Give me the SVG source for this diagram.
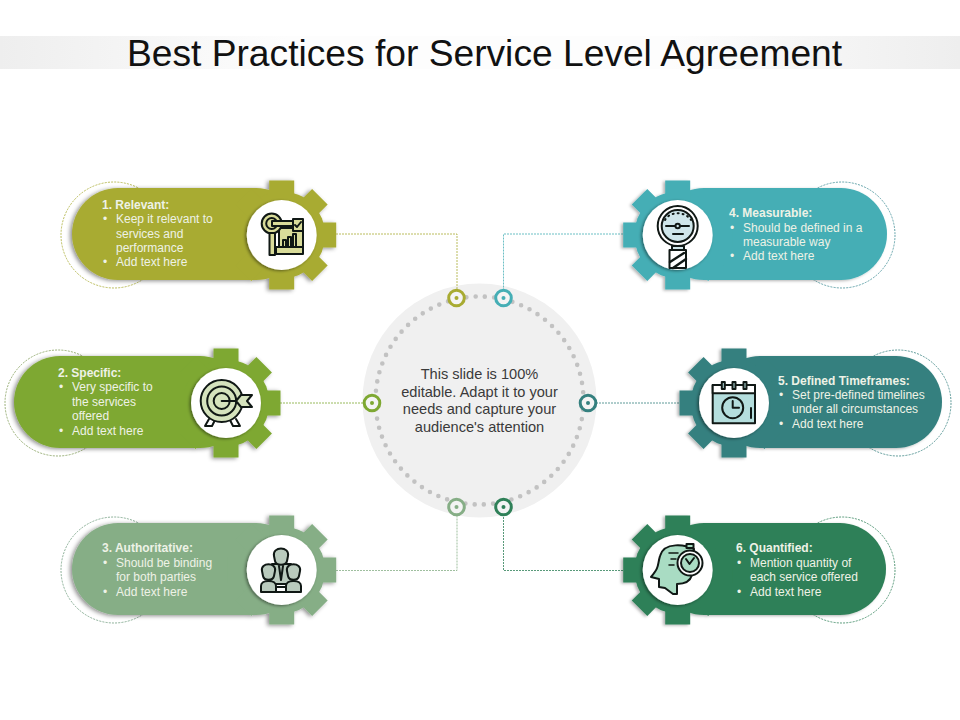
<svg xmlns="http://www.w3.org/2000/svg" width="960" height="720" viewBox="0 0 960 720">
<style>
text{font-family:"Liberation Sans",Arial,sans-serif}
.t{font-size:12px;fill:#eef2e6}
.b{font-weight:bold}
.c{font-size:14.6px;fill:#3a3a3a;text-anchor:middle}
.conn{fill:none;stroke-width:.8;stroke-dasharray:2 1}
.dash{fill:none;stroke-width:.8;stroke-dasharray:2 1.2}
.ring{fill:#f4f4f4;stroke-width:3}
.ic{stroke:#101815;stroke-width:2;stroke-linejoin:round;stroke-linecap:round}
.no{fill:none}
.wh{fill:#fff;filter:url(#sw)}
</style>
<defs>
<linearGradient id="band"><stop offset="0" stop-color="#eeeeee"/><stop offset=".3" stop-color="#fdfdfd"/><stop offset=".7" stop-color="#fdfdfd"/><stop offset="1" stop-color="#eeeeee"/></linearGradient>
<filter id="sl" x="-15%" y="-15%" width="130%" height="130%"><feDropShadow dx="-2" dy="1" stdDeviation="2.2" flood-color="#000" flood-opacity=".45"/></filter>
<filter id="sr" x="-15%" y="-15%" width="130%" height="130%"><feDropShadow dx="-2" dy="1" stdDeviation="1.8" flood-color="#000" flood-opacity=".3"/></filter>
<filter id="sw" x="-20%" y="-20%" width="140%" height="140%"><feDropShadow dx="-1.500" dy="1" stdDeviation="1.500" flood-color="#000" flood-opacity=".45"/></filter>
<g id="gear">
<circle r="43.500"/>
<rect x="-12.500" y="-54.500" width="25" height="109"/>
<rect x="-11" y="-54" width="22" height="108" transform="rotate(45)"/>
<rect x="-12.500" y="-54.500" width="25" height="109" transform="rotate(90)"/>
<rect x="-11" y="-54" width="22" height="108" transform="rotate(135)"/>
</g>
</defs>
<rect width="960" height="720" fill="#fff"/>
<rect y="36" width="960" height="33" fill="url(#band)"/>
<text x="484.500" y="66" font-size="37.200" text-anchor="middle" fill="#111">Best Practices for Service Level Agreement</text>

<g id="center">
<circle cx="479.500" cy="400.500" r="117" fill="#f0f0f0"/>
<circle cx="479.500" cy="400.500" r="104" fill="none" stroke="#c2c2c2" stroke-width="4.600" stroke-linecap="round" stroke-dasharray="0 9.340"/>
<text class="c" x="479.500" y="379">This slide is 100%</text>
<text class="c" x="479.500" y="396.500">editable. Adapt it to your</text>
<text class="c" x="479.500" y="414">needs and capture your</text>
<text class="c" x="479.500" y="431.500">audience's attention</text>
</g>

<g id="connectors">
<path class="conn" stroke="#a8ab32" d="M336 234H457V290"/>
<path class="conn" stroke="#7ea832" d="M280 403H364"/>
<path class="conn" stroke="#86ae86" d="M336 570.500H457V515"/>
<path class="conn" stroke="#45aeb5" d="M623 234H503.500V290"/>
<path class="conn" stroke="#35807f" d="M596 403H680"/>
<path class="conn" stroke="#2f8058" d="M623 570.500H503.500V515"/>
</g>

<g id="ports">
<circle class="ring" cx="456.500" cy="298" r="7.800" stroke="#a8ab32"/><circle cx="456.500" cy="298" r="2" fill="#a8ab32"/>
<circle class="ring" cx="503.500" cy="298" r="7.800" stroke="#45aeb5"/><circle cx="503.500" cy="298" r="2" fill="#45aeb5"/>
<circle class="ring" cx="372" cy="403" r="7.800" stroke="#7ea832"/><circle cx="372" cy="403" r="2" fill="#7ea832"/>
<circle class="ring" cx="588" cy="403" r="7.800" stroke="#35807f"/><circle cx="588" cy="403" r="2" fill="#35807f"/>
<circle class="ring" cx="456.500" cy="507" r="7.800" stroke="#86ae86"/><circle cx="456.500" cy="507" r="2" fill="#86ae86"/>
<circle class="ring" cx="503.500" cy="507" r="7.800" stroke="#2f8058"/><circle cx="503.500" cy="507" r="2" fill="#2f8058"/>
</g>

<g id="node1">
<circle class="dash" cx="114" cy="235" r="53" stroke="#a8ab32"/>
<g fill="#a8ab32" filter="url(#sl)"><rect x="72" y="188" width="230" height="92" rx="46"/><use href="#gear" x="281.700" y="235"/></g>
<circle class="wh" cx="281.700" cy="235" r="35"/>
<g class="ic" fill="#d9dc9a">
<path d="M279 228H303V247H279Z"/>
<path d="M276 247H303V254H276Z"/>
<circle cx="271.700" cy="223.500" r="10"/>
<circle cx="271.700" cy="223.500" r="5.500"/>
<path d="M269.500 233H275V255H269.500Z"/>
<path d="M272 221H293V226H272Z"/>
<path d="M293 219H303V231H293Z"/>
<path class="no" d="M295 225l2 2 4-5"/>
<path d="M283 246V240H286V246M288 246V237H291V246M293 246V234H296V246"/>
</g>
<text class="t b" x="102" y="209">1. Relevant:</text>
<text class="t" x="103" y="223">•</text><text class="t" x="116" y="223">Keep it relevant to</text>
<text class="t" x="116" y="237.500">services and</text>
<text class="t" x="116" y="252">performance</text>
<text class="t" x="103" y="266">•</text><text class="t" x="116" y="266">Add text here</text>
</g>

<g id="node2">
<circle class="dash" cx="58" cy="403" r="53" stroke="#7f9a55"/>
<g fill="#7ea832" filter="url(#sl)"><rect x="14" y="356" width="232" height="92" rx="46"/><use href="#gear" x="226" y="403"/></g>
<circle class="wh" cx="226" cy="403" r="35"/>
<g class="ic">
<path fill="none" d="M209 419l-4 7h7l3-6M236 419l4 7h-7l-3-6"/>
<circle cx="221.700" cy="401" r="21" fill="#d5e3bd"/>
<circle cx="221.700" cy="401" r="14.500" fill="#d5e3bd"/>
<circle cx="221.700" cy="401" r="8" fill="#d5e3bd"/>
<path fill="none" d="M221.700 401H240"/>
<path fill="#d5e3bd" d="M236 401l5-6h11l-5 6 5 6H241Z"/>
</g>
<text class="t b" x="58" y="377">2. Specific:</text>
<text class="t" x="59" y="391">•</text><text class="t" x="72" y="391">Very specific to</text>
<text class="t" x="72" y="405.500">the services</text>
<text class="t" x="72" y="420">offered</text>
<text class="t" x="59" y="434.500">•</text><text class="t" x="72" y="434.500">Add text here</text>
</g>

<g id="node3">
<circle class="dash" cx="114" cy="570" r="53" stroke="#6d9a7c"/>
<g fill="#86ae86" filter="url(#sl)"><rect x="72" y="523" width="230" height="92" rx="46"/><use href="#gear" x="281.700" y="570"/></g>
<circle class="wh" cx="281.700" cy="570" r="35"/>
<g class="ic" fill="#b9cabd">
<path d="M272 564H291L293 584H270Z"/>
<path d="M279 566l2 14 2-14"/>
<path d="M274 556c-2-10 16-10 14 0l-1 5c-1 5-11 5-12 0Z"/>
<path d="M261 592V586c0-3 3-5 7-5h1c4 0 7 2 7 5V592Z"/>
<path d="M286 592V586c0-3 3-5 7-5h1c4 0 7 2 7 5V592Z"/>
<path d="M262 571c-2-9 15-9 13 0l-1 5c-1 5-10 5-11 0Z"/>
<path d="M287 571c-2-9 15-9 13 0l-1 5c-1 5-10 5-11 0Z"/>
<path fill="#fff" d="M276 587H286V592H276Z"/>
</g>
<text class="t b" x="102" y="552">3. Authoritative:</text>
<text class="t" x="103" y="566.500">•</text><text class="t" x="116" y="566.500">Should be binding</text>
<text class="t" x="116" y="581">for both parties</text>
<text class="t" x="103" y="595.500">•</text><text class="t" x="116" y="595.500">Add text here</text>
</g>

<g id="node4">
<circle class="dash" cx="842" cy="235" r="53" stroke="#3f8d96"/>
<g fill="#45aeb5" filter="url(#sr)"><rect x="658" y="188" width="229" height="92" rx="46"/><use href="#gear" x="677.700" y="235"/></g>
<circle class="wh" cx="677.700" cy="235" r="35"/>
<g class="ic">
<circle cx="677.700" cy="226" r="20" fill="#fff"/>
<circle cx="677.700" cy="226" r="16" fill="#cfe6ea"/>
<path fill="none" d="M666 226H689M673 234H683"/>
<path fill="none" stroke-dasharray="1 4" d="M665 220C670 211 685 211 691 220"/>
<circle cx="677.700" cy="226" r="2.200" fill="#cfe6ea"/>
<path fill="#cfe6ea" d="M672 246H684V250H672Z"/>
<path fill="#fff" d="M669.500 250H686V268H669.500Z"/>
<path fill="none" stroke-width="2.400" d="M670 262L684 253M673 268L686 259"/>
</g>
<text class="t b" x="729" y="217">4. Measurable:</text>
<text class="t" x="730" y="231.500">•</text><text class="t" x="743" y="231.500">Should be defined in a</text>
<text class="t" x="743" y="245.500">measurable way</text>
<text class="t" x="730" y="260">•</text><text class="t" x="743" y="260">Add text here</text>
</g>

<g id="node5">
<circle class="dash" cx="898" cy="403" r="53" stroke="#35807f"/>
<g fill="#35807f" filter="url(#sr)"><rect x="714" y="356" width="228" height="92" rx="46"/><use href="#gear" x="734" y="403"/></g>
<circle class="wh" cx="734" cy="403" r="35"/>
<g class="ic" stroke-width="1.700">
<path fill="#b4dedd" d="M712.700 385H755V423.300H712.700Z"/>
<path fill="#fff" d="M712.700 385H755V393.300H712.700Z"/>
<path fill="#b4dedd" d="M721.800 382h3v7h-3ZM732.500 382h3v7h-3ZM743.500 382h3v7h-3Z"/>
<circle cx="732.700" cy="407.700" r="10.500" fill="#b4dedd"/>
<path fill="none" d="M732.700 401V407.700H739M751 408V418"/>
</g>
<text class="t b" x="778" y="384.500">5. Defined Timeframes:</text>
<text class="t" x="779" y="399">•</text><text class="t" x="792" y="399">Set pre-defined timelines</text>
<text class="t" x="792" y="413">under all circumstances</text>
<text class="t" x="779" y="427.500">•</text><text class="t" x="792" y="427.500">Add text here</text>
</g>

<g id="node6">
<circle class="dash" cx="842" cy="570" r="53" stroke="#2f8058"/>
<g fill="#2f8058" filter="url(#sr)"><rect x="658" y="523" width="228" height="92" rx="46"/><use href="#gear" x="677.700" y="570"/></g>
<circle class="wh" cx="677.700" cy="570" r="35"/>
<g class="ic">
<path fill="#a9dcc3" d="M694 549C686 545 664 541 660 556C657 566 660 566 651 577L659 579V587L665 588L673 594L677 594V584C684 584 690 582 692 575Z"/>
<path fill="none" stroke-width="1.500" d="M669 553H678M671 559H676M669 565H674"/>
<path fill="#a9dcc3" d="M686.500 544H693.500V548H686.500Z"/>
<circle cx="690" cy="563" r="12.500" fill="#fff"/>
<circle cx="690" cy="563" r="9" fill="#a9dcc3"/>
<path fill="none" d="M686 559L689.500 564L694 558"/>
</g>
<text class="t b" x="736" y="552">6. Quantified:</text>
<text class="t" x="737" y="566.500">•</text><text class="t" x="750" y="566.500">Mention quantity of</text>
<text class="t" x="750" y="581">each service offered</text>
<text class="t" x="737" y="595.500">•</text><text class="t" x="750" y="595.500">Add text here</text>
</g>
</svg>
